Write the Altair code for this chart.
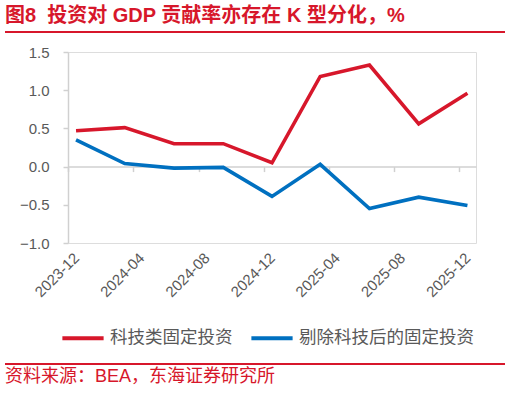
import altair as alt
import pandas as pd

# ---- data ----
quarters = ["2023-12", "2024-03", "2024-06", "2024-09", "2024-12",
            "2025-03", "2025-06", "2025-09", "2025-12"]
tech = [0.47, 0.51, 0.30, 0.30, 0.05, 1.18, 1.33, 0.56, 0.96]
ex_tech = [0.35, 0.04, -0.02, -0.01, -0.39, 0.03, -0.55, -0.40, -0.51]
series_names = ["科技类固定投资", "剔除科技后的固定投资"]
series_colors = ["#d7172b", "#0070c0"]
tick_months = ["2023-12", "2024-04", "2024-08", "2024-12", "2025-04", "2025-08", "2025-12"]
y_ticks = [-1.0, -0.5, 0.0, 0.5, 1.0, 1.5]
title_text = "图8\u00a0\u00a0投资对 GDP 贡献率亦存在 K 型分化，%"
source_text = "资料来源：BEA，东海证券研究所"

FONT = "'Liberation Sans', 'Noto Sans CJK SC', sans-serif"
RED = "#d7172b"
GREY_TXT = "#595959"
GREY_LINE = "#d0d0d0"

rows = []
for q, a, b in zip(quarters, tech, ex_tech):
    rows.append({"date": q + "-16", "series": series_names[0], "value": a})
    rows.append({"date": q + "-16", "series": series_names[1], "value": b})
df = pd.DataFrame(rows)


def dt(s):
    y, m = s.split("-")
    return alt.DateTime(year=int(y), month=int(m), date=1, utc=True)


W, H = 408, 191
x_scale = alt.Scale(type="utc", domain=[dt("2023-12"), dt("2026-01")], nice=False)
y_scale = alt.Scale(domain=[-1.0, 1.5], nice=False, zero=False)
y_axis = alt.Axis(values=y_ticks, format=".1f", grid=False,
                  domainColor=GREY_LINE, domainWidth=1.5,
                  tickColor=GREY_LINE, tickWidth=1.5, tickSize=5,
                  labelPadding=14, labelFont=FONT, labelFontSize=15,
                  labelColor=GREY_TXT)

lines = alt.Chart(df).mark_line(strokeWidth=3.6).encode(
    x=alt.X("date:T", scale=x_scale, title=None,
            axis=alt.Axis(values=[dt(m) for m in tick_months], format="%Y-%m",
                          labelAngle=-45, labelAlign="right", labelBaseline="middle",
                          labelOffset=8, labelPadding=12,
                          domain=False, ticks=False, grid=False,
                          labelFont=FONT, labelFontSize=15, labelColor=GREY_TXT,
                          orient="bottom")),
    y=alt.Y("value:Q", scale=y_scale, title=None, axis=y_axis),
    color=alt.Color("series:N",
                    scale=alt.Scale(domain=series_names, range=series_colors),
                    legend=alt.Legend(title=None, orient="none", direction="horizontal",
                                      legendX=-8, legendY=263,
                                      symbolType="stroke", symbolSize=1700,
                                      symbolStrokeWidth=4, labelOffset=4,
                                      columnPadding=10, padding=0,
                                      labelFont=FONT, labelFontSize=17.5,
                                      labelColor=GREY_TXT, labelLimit=300)),
)

zero_axis = alt.Chart(df).mark_line(opacity=0).encode(
    x=alt.X("date:T", scale=x_scale, title=None,
            axis=alt.Axis(values=[dt(m) for m in tick_months], labels=False,
                          domain=True, domainColor=GREY_LINE, domainWidth=1.5,
                          ticks=True, tickColor=GREY_LINE, tickWidth=1.5, tickSize=5,
                          grid=False, orient="bottom", offset=-H * 1.0 / 2.5)),
    y=alt.Y("value:Q", scale=y_scale, title=None, axis=y_axis),
    detail="series:N",
)

one = alt.Data(values=[{"t": title_text, "s": source_text}])

title_rule = alt.Chart(one).mark_rule(color=RED, strokeWidth=2).encode(
    x=alt.value(-63), x2=alt.value(437), y=alt.value(-20))
bottom_rule = alt.Chart(one).mark_rule(color=RED, strokeWidth=2).encode(
    x=alt.value(-63), x2=alt.value(437), y=alt.value(312))
title_mark = alt.Chart(one).mark_text(
    align="left", baseline="middle", font=FONT, fontSize=20, fontWeight="bold",
    color=RED).encode(x=alt.value(-63), y=alt.value(-36), text="t:N")
source_mark = alt.Chart(one).mark_text(
    align="left", baseline="middle", font=FONT, fontSize=18, color=RED).encode(
    x=alt.value(-63), y=alt.value(325), text="s:N")

chart = alt.layer(lines, zero_axis, title_rule, bottom_rule, title_mark, source_mark).resolve_axis(
    x="independent"
).properties(
    width=W, height=H,
    autosize=alt.AutoSizeParams(type="none"),
    padding={"left": 68, "top": 52, "right": 34, "bottom": 150},
).configure_view(stroke=None).configure(background="white")

chart.save("out.html", embed_options={"renderer": "svg", "actions": False})
